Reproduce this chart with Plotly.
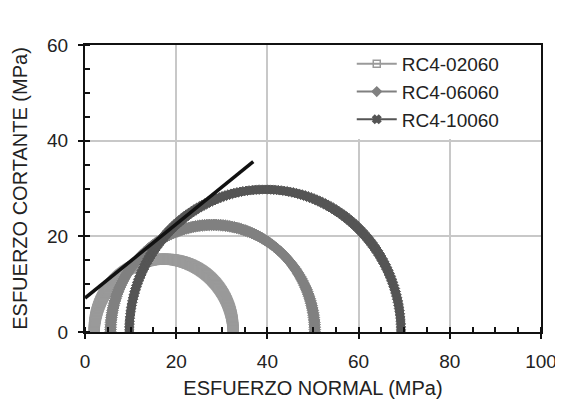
import numpy as np
import plotly.graph_objects as go

# Mohr circles: principal stresses (MPa)
series_names = ["RC4-02060", "RC4-06060", "RC4-10060"]
sigma3 = [2.0, 5.6, 9.7]
sigma1 = [32.5, 50.4, 69.3]
colors = ["#9a9a9a", "#808080", "#555555"]
symbols = ["square-open", "diamond", "x"]
band_widths = [9, 8, 7]

# Failure envelope end points
env_x = [0.0, 36.9]
env_y = [7.1, 35.6]

x_ticks = [0, 20, 40, 60, 80, 100]
y_ticks = [0, 20, 40, 60]

FONT = "Liberation Sans, Arial, sans-serif"

fig = go.Figure()

theta = np.linspace(0, np.pi, 140)
for name, s3, s1, c, sym, bw in zip(series_names, sigma3, sigma1, colors, symbols, band_widths):
    center = (s1 + s3) / 2
    radius = (s1 - s3) / 2
    xs = center - radius * np.cos(theta)
    ys = radius * np.sin(theta)
    fig.add_trace(go.Scatter(
        x=xs, y=ys, mode="lines+markers",
        line=dict(color=c, width=bw),
        marker=dict(color=c, size=bw + 1, symbol=sym.replace("-open", ""),
                    line=dict(color=c, width=1)),
        showlegend=False, hoverinfo="skip"))

fig.add_trace(go.Scatter(x=env_x, y=env_y, mode="lines",
                         line=dict(color="#111111", width=3.5),
                         showlegend=False, hoverinfo="skip"))

# legend entries
for name, c, sym in zip(series_names, colors, symbols):
    fig.add_trace(go.Scatter(
        x=[None], y=[None], mode="lines+markers", name=name,
        line=dict(color=c, width=2),
        marker=dict(color=c, size=7, symbol=sym, line=dict(color=c, width=1.5))))

axis_common = dict(
    showline=True, linecolor="#111111", linewidth=2, mirror=True,
    ticks="outside", ticklen=5, tickwidth=1.5, tickcolor="#111111",
    showgrid=True, gridcolor="#c8c8c8", gridwidth=1.5, zeroline=False,
    automargin=False,
    tickfont=dict(family=FONT, size=19, color="#222222"),
    minor=dict(dtick=5, ticks="inside", ticklen=5, tickwidth=1.5,
               tickcolor="#111111", showgrid=False),
)

fig.update_layout(
    width=555, height=404,
    margin=dict(l=77, r=22, t=37, b=80),
    paper_bgcolor="white", plot_bgcolor="white",
    font=dict(family=FONT, size=18, color="#222222"),
    xaxis=dict(range=[0, 100], tickvals=x_ticks, ticklabelstandoff=6,
               title=dict(text="ESFUERZO NORMAL (MPa)", standoff=10,
                          font=dict(family=FONT, size=20, color="#222222")),
               **axis_common),
    yaxis=dict(range=[0, 60], tickvals=y_ticks, ticklabelstandoff=6,
               title=dict(text="ESFUERZO CORTANTE (MPa)", standoff=14,
                          font=dict(family=FONT, size=20, color="#222222")),
               **axis_common),
    xaxis2=dict(overlaying="x", range=[0, 100], tickvals=x_ticks, ticks="inside",
                ticklen=5, tickwidth=1.5, tickcolor="#111111", showticklabels=False,
                showgrid=False, zeroline=False, side="bottom", automargin=False),
    yaxis2=dict(overlaying="y", range=[0, 60], tickvals=y_ticks, ticks="inside",
                ticklen=5, tickwidth=1.5, tickcolor="#111111", showticklabels=False,
                showgrid=False, zeroline=False, side="left", automargin=False),
    legend=dict(x=0.585, y=1.0, xanchor="left", yanchor="top",
                bgcolor="white", borderwidth=0,
                font=dict(family=FONT, size=19, color="#222222"),
                itemwidth=40, tracegroupgap=0),
)

fig.add_trace(go.Scatter(x=[None], y=[None], xaxis="x2", yaxis="y2",
                         showlegend=False, hoverinfo="skip"))

fig.write_html("out.html")
